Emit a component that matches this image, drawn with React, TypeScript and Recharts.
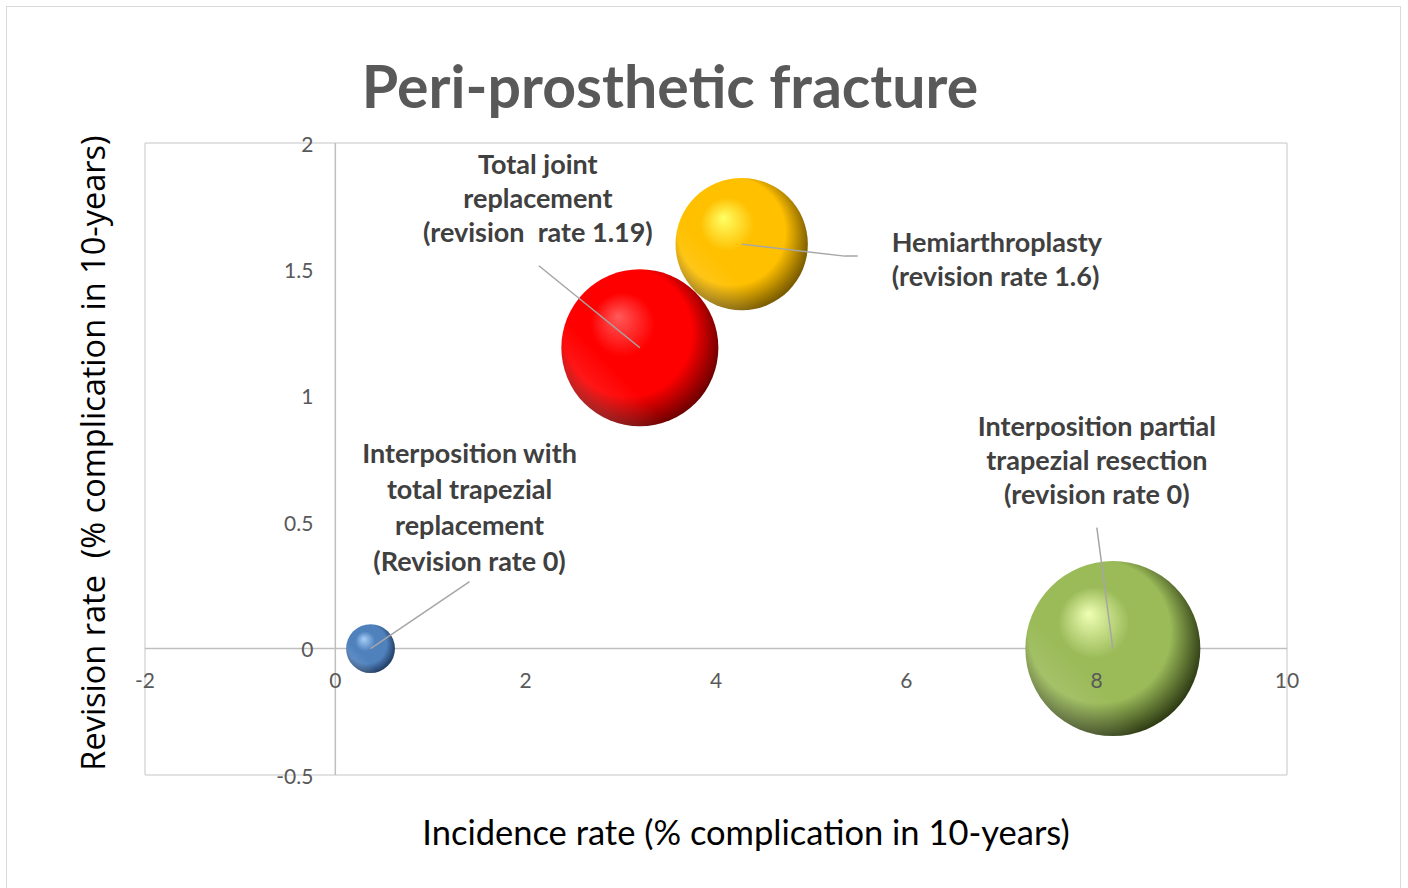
import React from 'react';
import {
  ScatterChart,
  Scatter,
  XAxis,
  YAxis,
  ZAxis,
  CartesianGrid,
  ReferenceLine,
  ReferenceDot,
} from 'recharts';

// ---------- data ----------
const categories = [
  'Interposition with total trapezial replacement',
  'Total joint replacement',
  'Hemiarthroplasty',
  'Interposition partial trapezial resection',
];
const incidenceRate = [0.37, 3.2, 4.27, 8.17];
const revisionRate = [0, 1.19, 1.6, 0];
const bubbleSize = [0.6, 6.2, 4.4, 7.7];
const labelLines = [
  ['Interposition with', 'total trapezial', 'replacement', '(Revision rate 0)'],
  ['Total joint', 'replacement', '(revision  rate 1.19)'],
  ['Hemiarthroplasty', '(revision rate 1.6)'],
  ['Interposition partial', 'trapezial resection', '(revision rate 0)'],
];
const xTicks = [-2, 0, 2, 4, 6, 8, 10];
const yTicks = [-0.5, 0, 0.5, 1, 1.5, 2];

const chartTitle = 'Peri-prosthetic fracture';
const xTitle = 'Incidence rate (% complication in 10-years)';
const yTitle = 'Revision rate  (% complication in 10-years)';

// ---------- styles ----------
const W = 1408;
const H = 888;
const LABEL_FONT = 'Lato, "Open Sans", sans-serif';

const SPHERES = [
  { hi: '#a9cff8', mid: '#4f81bd', dark: '#1c365a' },
  { hi: '#ff5a5a', mid: '#ff0000', dark: '#640000' },
  { hi: '#ffff66', mid: '#ffc000', dark: '#6e5200' },
  { hi: '#efffb4', mid: '#9bbb59', dark: '#27330f' },
];

type Layout = {
  dx: number;
  anchor: 'start' | 'middle' | 'end';
  lineDy: number[];
  leader: number[][];
};

const LABEL_LAYOUT: Layout[] = [
  { dx: 99, anchor: 'middle', lineDy: [-196, -160, -124, -88], leader: [[99, -67]] },
  { dx: -102, anchor: 'middle', lineDy: [-184, -150, -116], leader: [[-101, -82]] },
  { dx: 150, anchor: 'start', lineDy: [-3, 31], leader: [[103, 12], [116, 12]] },
  { dx: -16, anchor: 'middle', lineDy: [-223, -189, -155], leader: [[-16, -121]] },
];

const bubbles = categories.map((name, i) => ({
  name,
  idx: i,
  x: incidenceRate[i],
  y: revisionRate[i],
  z: bubbleSize[i],
}));

const Sphere = (props: any) => {
  const { cx, cy, payload } = props;
  const i = payload.idx;
  const r = props.width ? props.width / 2 : Math.sqrt((props.size || 0) / Math.PI);
  const c = SPHERES[i];
  const id = `sphere-${i}`;
  const id2 = `sphere-rim-${i}`;
  return (
    <g>
      <defs>
        <radialGradient id={id} cx="45%" cy="45%" r="58%" fx="36%" fy="30%">
          <stop offset="0%" stopColor={c.hi} />
          <stop offset="35%" stopColor={c.mid} />
          <stop offset="70%" stopColor={c.mid} />
          <stop offset="100%" stopColor={c.dark} />
        </radialGradient>
        <linearGradient id={id2} x1="0" y1="1" x2="1" y2="0">
          <stop offset="0%" stopColor="#ffffff" stopOpacity={0.25} />
          <stop offset="35%" stopColor="#ffffff" stopOpacity={0} />
          <stop offset="100%" stopColor="#000000" stopOpacity={0} />
        </linearGradient>
      </defs>
      <circle cx={cx} cy={cy} r={r} fill={`url(#${id})`} />
      <circle cx={cx} cy={cy} r={r} fill={`url(#${id2})`} />
    </g>
  );
};

const DataLabel = (props: any) => {
  const { cx, cy, payload } = props;
  const i = payload.idx;
  const L = LABEL_LAYOUT[i];
  const pts = [[cx, cy], ...L.leader.map(([dx, dy]) => [cx + dx, cy + dy])];
  return (
    <g>
      <polyline
        points={pts.map((p) => p.join(',')).join(' ')}
        fill="none"
        stroke="#a6a6a6"
        strokeWidth={1.5}
      />
      {labelLines[i].map((t, k) => (
        <text
          key={k}
          x={cx + L.dx}
          y={cy + L.lineDy[k]}
          textAnchor={L.anchor}
          dominantBaseline="central"
          fontFamily={LABEL_FONT}
          fontWeight={700}
          fontSize={27}
          fill="#404040"
          style={{ whiteSpace: 'pre' }}
        >
          {t}
        </text>
      ))}
    </g>
  );
};

export default function App() {
  return (
    <div style={{ position: 'relative', width: W, height: H, overflow: 'hidden', background: '#fff' }}>
      <style>{'body{margin:0;}'}</style>
      <div
        style={{
          position: 'absolute',
          left: 6,
          top: 6,
          width: 1395,
          height: 900,
          border: '1px solid #d9d9d9',
          boxSizing: 'border-box',
        }}
      />
      <div style={{ position: 'absolute', left: 0, top: 0 }}>
        <ScatterChart width={W} height={H} margin={{ top: 143, right: 121, bottom: 113, left: 145 }}>
          <CartesianGrid stroke="#d9d9d9" strokeWidth={1.5} />
          <XAxis
            type="number"
            dataKey="x"
            domain={[-2, 10]}
            ticks={xTicks}
            tick={false}
            tickLine={false}
            axisLine={false}
            height={0}
            allowDataOverflow
          />
          <YAxis
            type="number"
            dataKey="y"
            domain={[-0.5, 2]}
            ticks={yTicks}
            tick={false}
            tickLine={false}
            axisLine={false}
            width={0}
            allowDataOverflow
          />
          <ZAxis type="number" dataKey="z" domain={[0, 7.7]} range={[0, Math.PI * 87.5 * 87.5]} />
          <ReferenceLine x={0} stroke="#bfbfbf" strokeWidth={1.5} />
          <ReferenceLine y={0} stroke="#bfbfbf" strokeWidth={1.5} />
          <Scatter data={bubbles} shape={<Sphere />} isAnimationActive={false} />
          {xTicks.map((t) => (
            <ReferenceDot
              key={`xt${t}`}
              x={t}
              y={0}
              r={0}
              shape={(p: any) => (
                <text
                  x={p.cx}
                  y={p.cy + 31}
                  textAnchor="middle"
                  dominantBaseline="central"
                  fontFamily={LABEL_FONT}
                  fontSize={21}
                  fill="#595959"
                >
                  {t}
                </text>
              )}
            />
          ))}
          {yTicks.map((t) => (
            <ReferenceDot
              key={`yt${t}`}
              x={0}
              y={t}
              r={0}
              shape={(p: any) => (
                <text
                  x={p.cx - 22}
                  y={p.cy}
                  textAnchor="end"
                  dominantBaseline="central"
                  fontFamily={LABEL_FONT}
                  fontSize={21}
                  fill="#595959"
                >
                  {t}
                </text>
              )}
            />
          ))}
          <Scatter data={bubbles} shape={<DataLabel />} isAnimationActive={false} />
        </ScatterChart>
      </div>
      <svg
        width={W}
        height={H}
        style={{ position: 'absolute', left: 0, top: 0, pointerEvents: 'none' }}
      >
        <text
          x={670}
          y={108}
          textAnchor="middle"
          fontFamily={LABEL_FONT}
          fontWeight={700}
          fontSize={59}
          fill="#595959"
        >
          {chartTitle}
        </text>
        <text
          x={746}
          y={831}
          textAnchor="middle"
          dominantBaseline="central"
          fontFamily={LABEL_FONT}
          fontSize={34.5}
          fill="#000"
        >
          {xTitle}
        </text>
        <text
          transform="translate(92,453) rotate(-90)"
          x={0}
          y={0}
          textAnchor="middle"
          dominantBaseline="central"
          fontFamily='"Open Sans", sans-serif'
          fontSize={32.5}
          fill="#000"
          style={{ whiteSpace: 'pre' }}
        >
          {yTitle}
        </text>
      </svg>
    </div>
  );
}
